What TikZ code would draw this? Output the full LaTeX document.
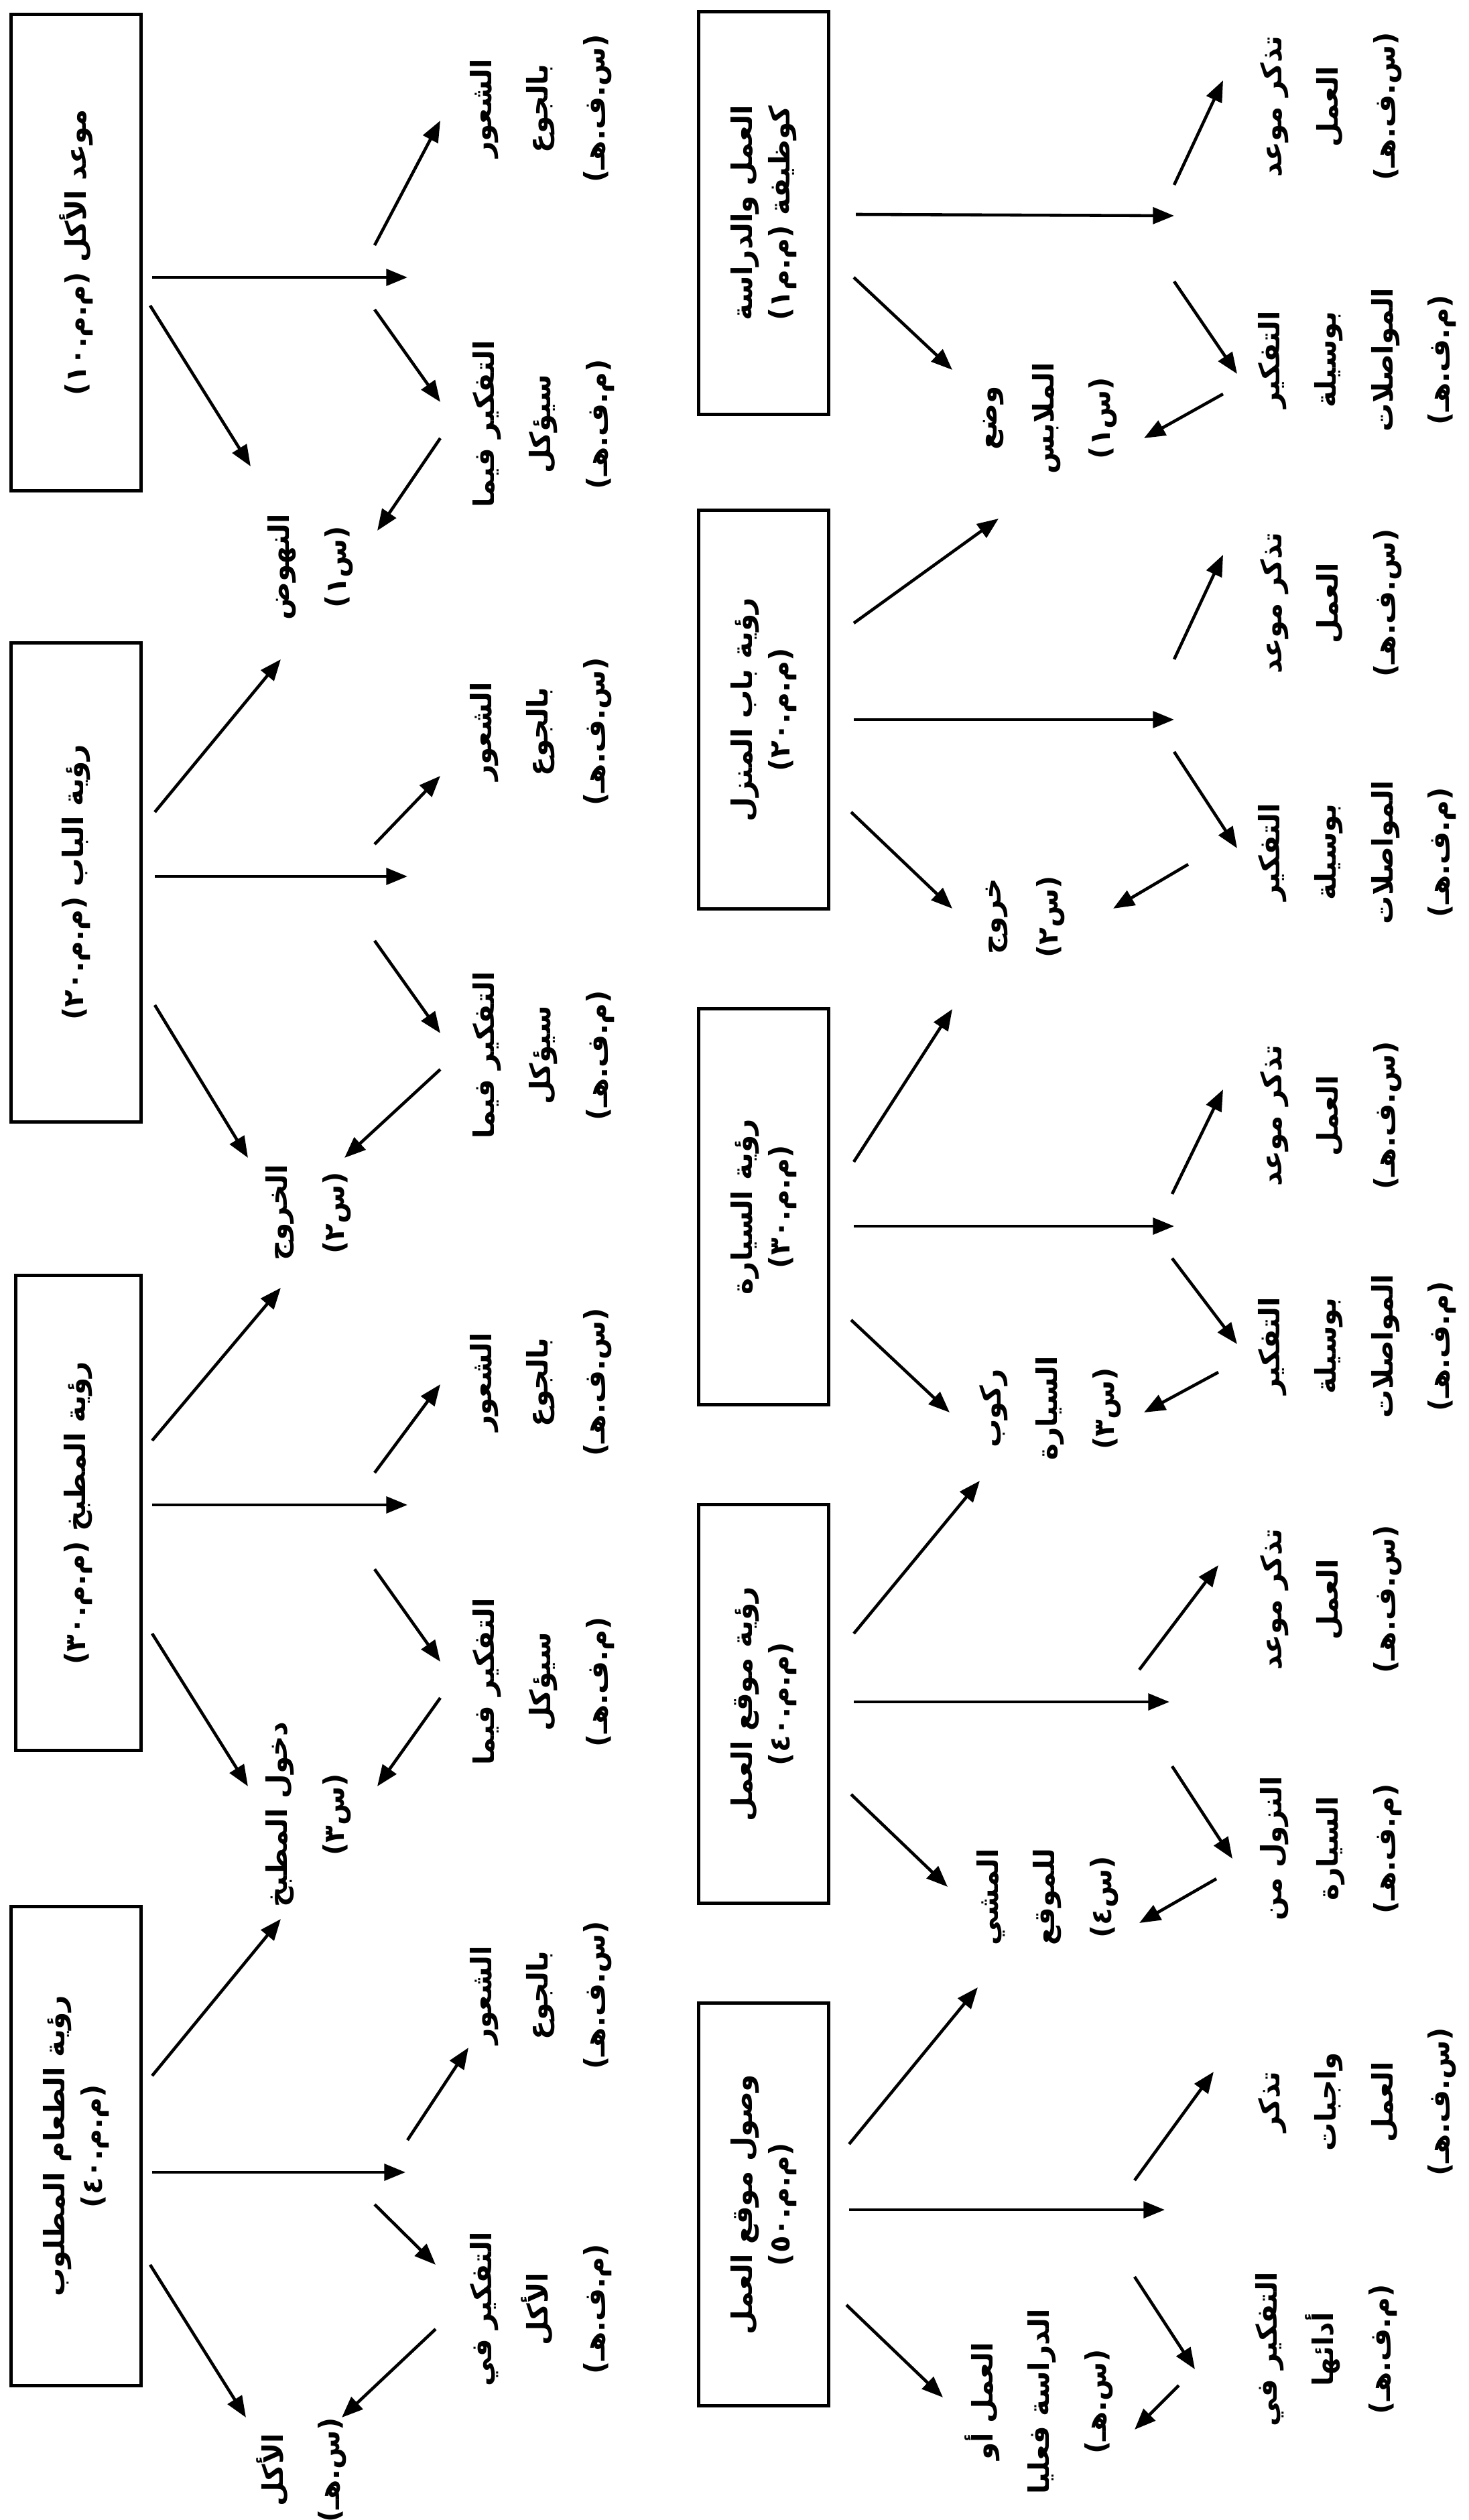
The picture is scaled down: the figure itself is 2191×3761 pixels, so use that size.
\documentclass[tikz,border=0pt]{standalone}
\usepackage{fontspec}
\usetikzlibrary{arrows.meta}
\newfontfamily\arabicfont[Script=Arabic]{DejaVu Sans}
\TeXXeTstate=1
\newcommand{\arl}[1]{\beginR #1\endR}
\begin{document}
\begin{tikzpicture}[x=0.01cm,y=-0.01cm,
  box/.style={draw,line width=1.4pt,rotate=90,minimum height=1.93cm,inner sep=0pt,align=center,
    font=\arabicfont\bfseries\fontsize{12}{16}\selectfont},
  lbl/.style={rotate=90,align=center,inner sep=0pt,font=\arabicfont\bfseries\fontsize{12}{24}\selectfont},
  arr/.style={-{Triangle[length=9pt,width=7pt]},line width=1.3pt}]
\useasboundingbox (0,0) rectangle (2191,3761);
% boxes, left column
\node[box,minimum width=7.10cm] (L1) at (113.5,377) {\arl{موعد الأكل (م.م.١٠)}};
\node[box,minimum width=7.14cm] (L2) at (113.5,1317) {\arl{رؤية الباب (م.م.٢٠)}};
\node[box,minimum width=7.08cm,minimum height=1.86cm] (L3) at (117,2258) {\arl{رؤية المطبخ (م.م.٣٠)}};
\node[box,minimum width=7.14cm] (L4) at (113.5,3203) {\arl{رؤية الطعام المطلوب}\\\arl{(م.م.٤٠)}};
% boxes, right column
\node[box,minimum width=6.00cm] (R1) at (1139.5,318) {\arl{العمل والدراسة}\\\arl{كوظيفة (م.م١)}};
\node[box,minimum width=5.94cm] (R2) at (1139.5,1059) {\arl{رؤية باب المنزل}\\\arl{(م.م.٢٠)}};
\node[box,minimum width=5.90cm] (R3) at (1139.5,1801) {\arl{رؤية السيارة}\\\arl{(م.م.٣٠)}};
\node[box,minimum width=5.94cm] (R4) at (1139.5,2543) {\arl{رؤية موقع العمل}\\\arl{(م.م.٤٠)}};
\node[box,minimum width=6.00cm] (R5) at (1139.5,3290) {\arl{وصول موقع العمل}\\\arl{(م.م.٥٠)}};
% labels, left tree
\node[lbl] (bj1) at (807,162) {\arl{الشعور}\\\arl{بالجوع}\\\arl{(س.ف.هـ)}};
\node[lbl] (tf1) at (811,633) {\arl{التفكير فيما}\\\arl{سيؤكل}\\\arl{(م.ف.هـ)}};
\node[lbl] (nh) at (463,846) {\arl{النهوض}\\\arl{(س١)}};
\node[lbl] (bj2) at (807,1092) {\arl{الشعور}\\\arl{بالجوع}\\\arl{(س.ف.هـ)}};
\node[lbl] (tf2) at (811,1575) {\arl{التفكير فيما}\\\arl{سيؤكل}\\\arl{(م.ف.هـ)}};
\node[lbl] (kh) at (460,1810) {\arl{الخروج}\\\arl{(س٢)}};
\node[lbl] (bj3) at (807,2063) {\arl{الشعور}\\\arl{بالجوع}\\\arl{(س.ف.هـ)}};
\node[lbl] (tf3) at (811,2510) {\arl{التفكير فيما}\\\arl{سيؤكل}\\\arl{(م.ف.هـ)}};
\node[lbl] (dm) at (460,2708) {\arl{دخول المطبخ}\\\arl{(س٣)}};
\node[lbl] (bj4) at (807,2978) {\arl{الشعور}\\\arl{بالجوع}\\\arl{(س.ف.هـ)}};
\node[lbl] (ta4) at (807,3446) {\arl{التفكير في}\\\arl{الأكل}\\\arl{(م.ف.هـ)}};
\node[lbl] (ak) at (450,3686) {\arl{الأكل}\\\arl{(س.هـ)}};
% labels, right tree
\node[lbl] (tm1) at (1986,159) {\arl{تذكر موعد}\\\arl{العمل}\\\arl{(س.ف.هـ)}};
\node[lbl] (tw1) at (2025,537) {\arl{التفكير}\\\arl{بوسيلة}\\\arl{المواصلات}\\\arl{(م.ف.هـ)}};
\node[lbl] (wm) at (1567,624) {\arl{وضع}\\\arl{الملابس}\\\arl{(س١)}};
\node[lbl] (tm2) at (1986,900) {\arl{تذكر موعد}\\\arl{العمل}\\\arl{(س.ف.هـ)}};
\node[lbl] (tw2) at (2025,1272) {\arl{التفكير}\\\arl{بوسيلة}\\\arl{المواصلات}\\\arl{(م.ف.هـ)}};
\node[lbl] (kr) at (1530,1368) {\arl{خروج}\\\arl{(س٢)}};
\node[lbl] (tm3) at (1986,1665) {\arl{تذكر موعد}\\\arl{العمل}\\\arl{(س.ف.هـ)}};
\node[lbl] (tw3) at (2025,2009) {\arl{التفكير}\\\arl{بوسيلة}\\\arl{المواصلات}\\\arl{(م.ف.هـ)}};
\node[lbl] (rs) at (1567,2102) {\arl{ركوب}\\\arl{السيارة}\\\arl{(س٣)}};
\node[lbl] (tm4) at (1986,2387) {\arl{تذكر موعد}\\\arl{العمل}\\\arl{(س.ف.هـ)}};
\node[lbl] (nz) at (1986,2759) {\arl{النزول من}\\\arl{السيارة}\\\arl{(م.ف.هـ)}};
\node[lbl] (mm) at (1563,2831) {\arl{المشي}\\\arl{للموقع}\\\arl{(س٤)}};
\node[lbl] (tw5) at (2025,3137) {\arl{تذكر}\\\arl{واجبات}\\\arl{العمل}\\\arl{(س.ف.هـ)}};
\node[lbl] (ta5) at (1979,3506) {\arl{التفكير في}\\\arl{أدائها}\\\arl{(م.ف.هـ)}};
\node[lbl] (aw) at (1550,3584) {\arl{العمل أو}\\\arl{الدراسة فعليا}\\\arl{(س.هـ)}};
% connectors
\foreach \n/\ax/\ay/\bx/\by in {
  L1h/227/414/608/414, L1u/559/366/657/180, L1d/559/462/657/600, L1b/657/654/563/792, L1s/224/456/374/696,
  L2p/231/1212/419/984, L2h/231/1308/608/1308, L2u/559/1260/657/1158, L2d/559/1404/657/1542, L2b/657/1596/514/1728, L2s/231/1500/370/1728,
  L3p/227/2150/419/1922, L3h/227/2246/608/2246, L3u/559/2198/657/2066, L3d/559/2342/657/2480, L3b/657/2534/563/2666, L3s/227/2438/370/2666,
  L4p/227/3098/419/2864, L4h/227/3242/605/3242, L4u/608/3194/699/3056, L4d/559/3290/650/3380, L4b/650/3476/510/3608, L4s/224/3380/367/3608,
  R1h/1277/320/1752/322, R1u/1752/276/1825/120, R1d/1752/420/1846/558, R1b/1825/588/1707/654, R1s/1274/414/1421/552,
  R2p/1274/930/1490/774, R2h/1274/1074/1752/1074, R2u/1752/984/1825/828, R2d/1752/1122/1846/1266, R2b/1773/1290/1661/1356, R2s/1270/1212/1421/1356,
  R3p/1274/1734/1421/1506, R3h/1274/1830/1752/1830, R3u/1749/1782/1825/1626, R3d/1749/1878/1846/2006, R3b/1818/2048/1707/2108, R3s/1270/1970/1417/2108,
  R4p/1274/2438/1462/2210, R4h/1274/2540/1745/2540, R4u/1700/2492/1818/2336, R4d/1749/2636/1839/2774, R4b/1815/2804/1700/2870, R4s/1270/2678/1414/2816,
  R5p/1267/3200/1459/2966, R5h/1267/3298/1738/3298, R5u/1693/3254/1811/3092, R5d/1693/3398/1783/3536, R5b/1759/3560/1693/3626, R5s/1263/3440/1407/3578}
{
  \coordinate (\n A) at (\ax,\ay);
  \coordinate (\n B) at (\bx,\by);
  \draw[arr] (\n A) -- (\n B);
}
\end{tikzpicture}
\end{document}
